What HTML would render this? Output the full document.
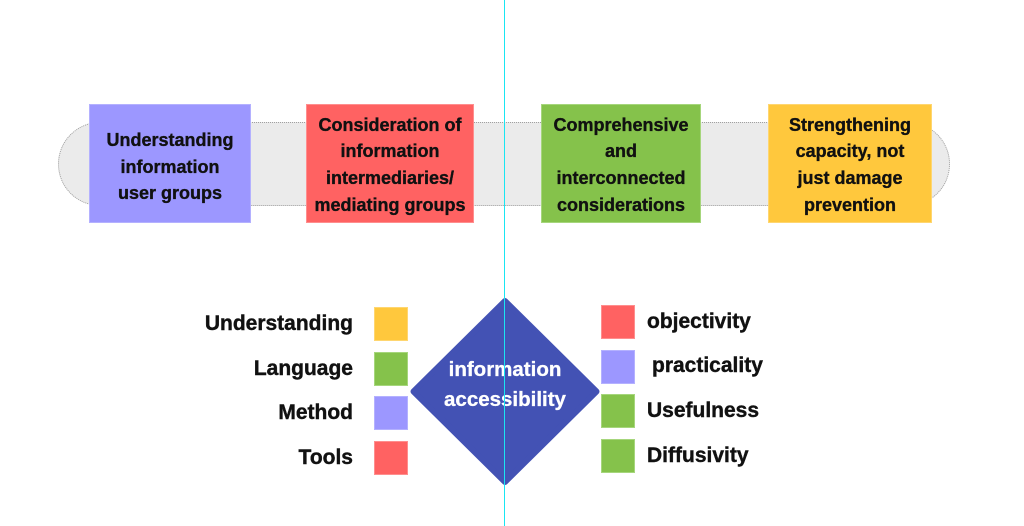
<!DOCTYPE html>
<html>
<head>
<meta charset="utf-8">
<style>
  html,body{margin:0;padding:0;background:#fff;}
  body{width:1024px;height:526px;position:relative;overflow:hidden;font-family:"Liberation Sans",Arial,sans-serif;}
  .pill{position:absolute;left:58px;top:122px;width:890px;height:82px;background:#ebebeb;border:1px dotted #a0a0a0;border-radius:42px;}
  .box{position:absolute;top:104px;height:119px;display:flex;align-items:center;justify-content:center;text-align:center;font-weight:bold;font-size:18px;line-height:26.6px;color:#111;box-sizing:border-box;padding-top:3px;-webkit-text-stroke:0.35px #111;}
  .lbl{position:absolute;font-weight:bold;font-size:21px;color:#111;line-height:26px;white-space:nowrap;-webkit-text-stroke:0.4px #111;}
  .l{text-align:right;right:671px;}
  .r{left:647px;}
  .sq{position:absolute;width:34px;height:34px;box-sizing:border-box;}
  .cy{position:absolute;left:504px;top:0;width:1px;height:526px;background:#19e6f2;}
  .dt{position:absolute;left:405px;width:200px;text-align:center;color:#fff;font-weight:bold;font-size:20.5px;line-height:26px;white-space:nowrap;-webkit-text-stroke:0.3px #fff;}
</style>
</head>
<body>
<div class="pill"></div>

<div class="box" style="left:89px;width:162px;background:#9c97ff;border:1px solid #b4b1ff;padding-top:7px;">Understanding<br>information<br>user groups</div>
<div class="box" style="left:306px;width:168px;background:#ff6262;border:1px solid #ff8e8e;">Consideration of<br>information<br>intermediaries/<br>mediating groups</div>
<div class="box" style="left:541px;width:160px;background:#85c24b;border:1px solid #a6d67c;">Comprehensive<br>and<br>interconnected<br>considerations</div>
<div class="box" style="left:768px;width:164px;background:#ffc83d;border:1px solid #ffd670;">Strengthening<br>capacity, not<br>just damage<br>prevention</div>

<div class="lbl l" style="top:311px;">Understanding</div>
<div class="lbl l" style="top:356px;">Language</div>
<div class="lbl l" style="top:400px;">Method</div>
<div class="lbl l" style="top:445px;">Tools</div>

<div class="sq" style="left:374px;top:307px;background:#ffc83d;border:1px solid #ffd670;"></div>
<div class="sq" style="left:374px;top:352px;background:#85c24b;border:1px solid #a6d67c;"></div>
<div class="sq" style="left:374px;top:396px;background:#9c97ff;border:1px solid #b4b1ff;"></div>
<div class="sq" style="left:374px;top:441px;background:#ff6262;border:1px solid #ff8e8e;"></div>

<svg style="position:absolute;left:0;top:0;" width="1024" height="526">
  <polygon points="505,301 596.5,391.5 505,482 413.5,391.5" fill="#4352b4" stroke="#4352b4" stroke-width="6" stroke-linejoin="round"/>
</svg>
<div class="dt" style="top:357px;">information</div>
<div class="dt" style="top:387px;">accessibility</div>

<div class="sq" style="left:601px;top:305px;background:#ff6262;border:1px solid #ff8e8e;"></div>
<div class="sq" style="left:601px;top:350px;background:#9c97ff;border:1px solid #b4b1ff;"></div>
<div class="sq" style="left:601px;top:394px;background:#85c24b;border:1px solid #a6d67c;"></div>
<div class="sq" style="left:601px;top:439px;background:#85c24b;border:1px solid #a6d67c;"></div>

<div class="lbl r" style="top:309px;">objectivity</div>
<div class="lbl r" style="top:353px;left:652px;">practicality</div>
<div class="lbl r" style="top:398px;">Usefulness</div>
<div class="lbl r" style="top:443px;">Diffusivity</div>

<div class="cy"></div>
</body>
</html>
